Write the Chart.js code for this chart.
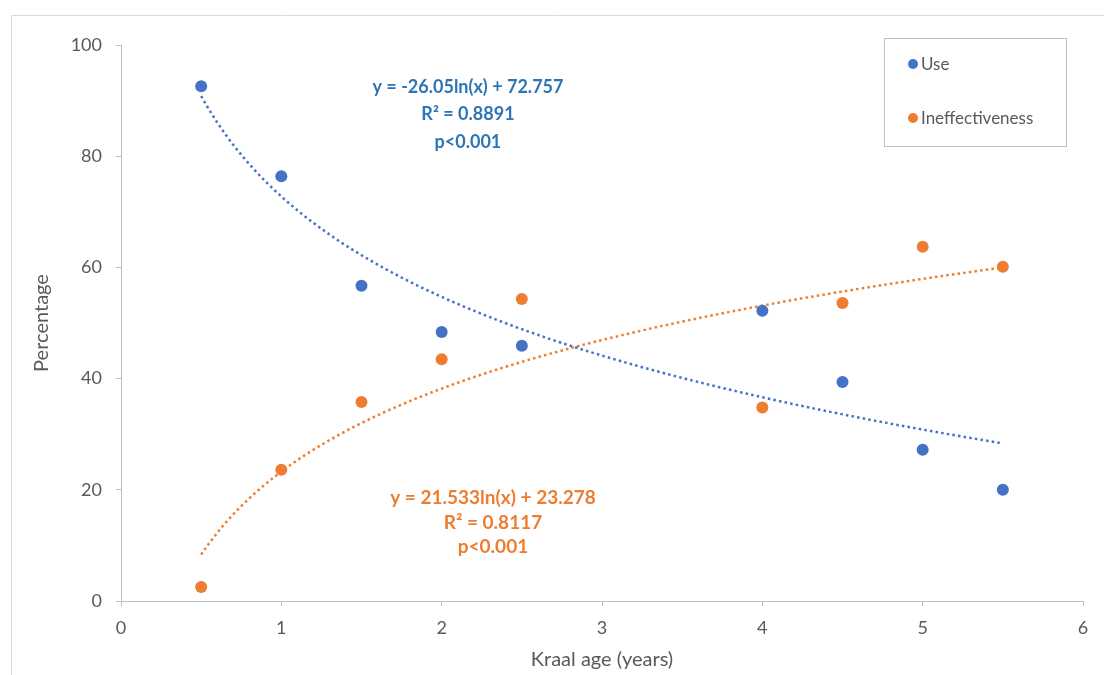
<!DOCTYPE html>
<html><head><meta charset="utf-8">
<script src="https://cdn.jsdelivr.net/npm/chart.js@4.4.1/dist/chart.umd.min.js"></script>
<style>html,body{margin:0;padding:0;background:#fff;}#wrap{position:relative;width:1104px;height:675px;}</style>
</head><body><div id="wrap"><canvas id="c" width="1104" height="675"></canvas></div>
<script>
const kraalAge = [0.5, 1, 1.5, 2, 2.5, 4, 4.5, 5, 5.5];
const useValues = [92.6, 76.4, 56.7, 48.4, 45.9, 52.2, 39.4, 27.2, 20.0];
const ineffValues = [2.5, 23.6, 35.8, 43.5, 54.3, 34.8, 53.6, 63.7, 60.1];
const xTicks = [0, 1, 2, 3, 4, 5, 6];
const yTicks = [0, 20, 40, 60, 80, 100];
const seriesNames = ['Use', 'Ineffectiveness'];
// fitted logarithmic trendlines as printed on the chart: y = a ln(x) + b
const useFit = [-26.05, 72.757];
const ineffFit = [21.533, 23.278];
const trendRange = [0.5, 5.5];
const useLabel = ['y = -26.05ln(x) + 72.757', 'R² = 0.8891', 'p<0.001'];
const ineffLabel = ['y = 21.533ln(x) + 23.278', 'R² = 0.8117', 'p<0.001'];
const useLabelAnchor = [2.164, 92.5];
const ineffLabelAnchor = [2.32, 18.5];

const BLUE = '#4472C4', ORANGE = '#ED7D31';
const FONT = 'Lato, "Open Sans", sans-serif';

function pts(xs, ys) { return xs.map((x, i) => ({x: x, y: ys[i]})); }
function fitCurve(c) {
  const out = [];
  const n = 100;
  for (let i = 0; i <= n; i++) {
    const x = trendRange[0] + (trendRange[1] - trendRange[0]) * i / n;
    out.push({x: x, y: c[0] * Math.log(x) + c[1]});
  }
  return out;
}

const decor = {
  id: 'decor',
  beforeDraw(chart) {
    const ctx = chart.ctx;
    ctx.save();
    ctx.fillStyle = '#fff';
    ctx.fillRect(0, 0, chart.width, chart.height);
    ctx.strokeStyle = '#d9d9d9';
    ctx.lineWidth = 1;
    ctx.beginPath();
    ctx.moveTo(11.5, chart.height);
    ctx.lineTo(11.5, 15.5);
    ctx.lineTo(chart.width, 15.5);
    ctx.stroke();
    ctx.restore();
  },
  afterDraw(chart) {
    const ctx = chart.ctx;
    const xs = chart.scales.x, ys = chart.scales.y;
    ctx.save();
    ctx.textAlign = 'center';
    ctx.textBaseline = 'middle';
    ctx.font = 'bold 18px ' + FONT;
    ctx.fillStyle = '#2E75B6';
    let cx = xs.getPixelForValue(useLabelAnchor[0]), cy = ys.getPixelForValue(useLabelAnchor[1]);
    useLabel.forEach((t, i) => ctx.fillText(t, cx, cy + i * 27.5));
    ctx.font = 'bold 19px ' + FONT;
    ctx.fillStyle = ORANGE;
    cx = xs.getPixelForValue(ineffLabelAnchor[0]); cy = ys.getPixelForValue(ineffLabelAnchor[1]);
    ineffLabel.forEach((t, i) => ctx.fillText(t, cx, cy + i * 24.5));
    // legend
    ctx.strokeStyle = '#bfbfbf';
    ctx.lineWidth = 1;
    ctx.strokeRect(884.5, 38.5, 182, 108);
    const cols = [BLUE, ORANGE], ly = [64, 118];
    ctx.font = '17px ' + FONT;
    ctx.textAlign = 'left';
    seriesNames.forEach((n, i) => {
      ctx.fillStyle = cols[i];
      ctx.beginPath(); ctx.arc(913, ly[i], 5, 0, Math.PI * 2); ctx.fill();
      ctx.fillStyle = '#595959';
      ctx.fillText(n, 921, ly[i] + 1);
    });
    ctx.restore();
  }
};

const axisGrid = {display: true, drawOnChartArea: false, drawTicks: true, tickLength: 5, color: '#bfbfbf'};
new Chart(document.getElementById('c'), {
  type: 'scatter',
  data: {
    datasets: [
      {label: seriesNames[0], data: pts(kraalAge, useValues), backgroundColor: BLUE, borderColor: BLUE, pointRadius: 6, pointBorderWidth: 0, order: 0},
      {label: seriesNames[1], data: pts(kraalAge, ineffValues), backgroundColor: ORANGE, borderColor: ORANGE, pointRadius: 6, pointBorderWidth: 0, order: 0},
      {label: 'Use trend', data: fitCurve(useFit), showLine: true, pointRadius: 0, borderColor: BLUE, borderWidth: 2.5, borderDash: [2.5, 3.2], fill: false, tension: 0, order: 1},
      {label: 'Ineffectiveness trend', data: fitCurve(ineffFit), showLine: true, pointRadius: 0, borderColor: ORANGE, borderWidth: 2.5, borderDash: [2.5, 3.2], fill: false, tension: 0, order: 1}
    ]
  },
  options: {
    responsive: false,
    animation: false,
    devicePixelRatio: 1,
    layout: {padding: {top: 45, right: 21, left: 0, bottom: 0}},
    plugins: {legend: {display: false}, tooltip: {enabled: false}},
    scales: {
      x: {
        type: 'linear', min: 0, max: 6,
        afterBuildTicks: s => { s.ticks = xTicks.map(v => ({value: v})); },
        afterFit: s => { s.height = 74; },
        grid: axisGrid,
        border: {display: true, color: '#bfbfbf', width: 1},
        ticks: {color: '#595959', font: {family: FONT, size: 18}, padding: 11, maxRotation: 0},
        title: {display: true, text: 'Kraal age (years)', color: '#595959', font: {family: FONT, size: 20}, padding: {top: 0, bottom: 3}}
      },
      y: {
        type: 'linear', min: 0, max: 100,
        afterBuildTicks: s => { s.ticks = yTicks.map(v => ({value: v})); },
        afterFit: s => { s.width = 121; },
        grid: axisGrid,
        border: {display: true, color: '#bfbfbf', width: 1},
        ticks: {color: '#595959', font: {family: FONT, size: 18}, padding: 14},
        title: {display: true, text: 'Percentage', color: '#595959', font: {family: FONT, size: 20}, padding: {top: 30, bottom: 0}}
      }
    }
  },
  plugins: [decor]
});
</script></body></html>
